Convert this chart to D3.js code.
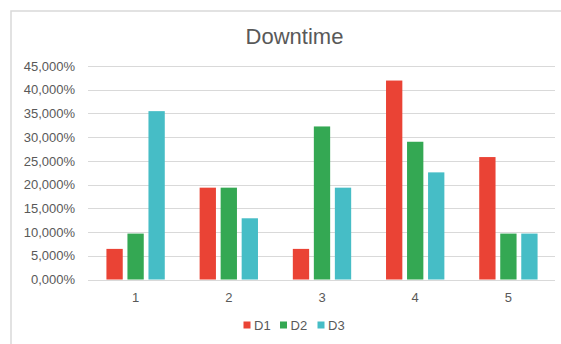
<!DOCTYPE html>
<html>
<head>
<meta charset="utf-8">
<script src="https://d3js.org/d3.v7.min.js"></script>
<style>
  html, body { margin: 0; padding: 0; background: #fff; }
  svg { display: block; font-family: "Liberation Sans", Arial, sans-serif; }
</style>
</head>
<body>
<svg id="chart" width="561" height="344"></svg>
<script>
// Downtime share per period, by series
const categories = ["1", "2", "3", "4", "5"];
const seriesNames = ["D1", "D2", "D3"];
const d1 = [0.06452, 0.19355, 0.06452, 0.41935, 0.25806];
const d2 = [0.09677, 0.19355, 0.32258, 0.29032, 0.09677];
const d3v = [0.35484, 0.12903, 0.19355, 0.22581, 0.09677];
const colors = ["#ea4335", "#34a853", "#46bdc6"];
const yTicks = [0, 0.05, 0.10, 0.15, 0.20, 0.25, 0.30, 0.35, 0.40, 0.45];

const seriesValues = [d1, d2, d3v];
const rows = categories.map((c, i) => ({
  cat: c,
  vals: seriesNames.map((s, j) => ({ key: s, value: seriesValues[j][i] }))
}));

const svg = d3.select("#chart");
const locale = d3.formatLocale({ decimal: ",", thousands: ".", grouping: [3], currency: ["", "€"] });
const fmt = locale.format(".3%");

const plot = { left: 89, right: 555, top: 66, bottom: 279.5 };

// chart frame
svg.append("rect")
  .attr("x", 11).attr("y", 11)
  .attr("width", 600).attr("height", 400)
  .attr("fill", "#fff")
  .attr("stroke", "#d9d9d9").attr("stroke-width", 1.5);

// title
svg.append("text")
  .attr("x", 294.5).attr("y", 44)
  .attr("text-anchor", "middle")
  .attr("font-size", 22)
  .attr("fill", "#595959")
  .text("Downtime");

const x = d3.scaleBand().domain(categories)
  .range([plot.left, plot.right]).paddingInner(0.374).paddingOuter(0.187);
const xs = d3.scaleBand().domain(seriesNames)
  .range([0, x.bandwidth()]).paddingInner(0.224).paddingOuter(0);
const y = d3.scaleLinear().domain([0, 0.45]).range([plot.bottom, plot.top]);

// horizontal gridlines
svg.append("g")
  .selectAll("line")
  .data(yTicks)
  .join("line")
  .attr("x1", plot.left - 1).attr("x2", plot.right)
  .attr("y1", d => Math.round(y(d)) + 0.5).attr("y2", d => Math.round(y(d)) + 0.5)
  .attr("stroke", "#d9d9d9").attr("stroke-width", 1.2);

// y axis labels
const yAxis = d3.axisLeft(y).tickValues(yTicks).tickFormat(fmt).tickSize(0).tickPadding(14);
const gy = svg.append("g").attr("transform", `translate(${plot.left},0)`).call(yAxis);
gy.select(".domain").remove();
gy.selectAll("text").attr("font-size", 13).attr("fill", "#595959")
  .attr("font-family", "Liberation Sans, Arial, sans-serif");

// bars
const groups = svg.append("g").selectAll("g")
  .data(rows)
  .join("g")
  .attr("transform", d => `translate(${x(d.cat)},0)`);
groups.selectAll("rect")
  .data(d => d.vals)
  .join("rect")
  .attr("x", d => xs(d.key))
  .attr("width", xs.bandwidth())
  .attr("y", d => y(d.value))
  .attr("height", d => y(0) - y(d.value))
  .attr("fill", (d, i) => colors[i]);

// x axis
const xAxis = d3.axisBottom(x).tickSize(0).tickPadding(12);
const gx = svg.append("g").attr("transform", `translate(0,${Math.round(plot.bottom) + 0.5})`).call(xAxis);
gx.select(".domain").attr("stroke", "#d9d9d9").attr("stroke-width", 1.2)
  .attr("d", `M${plot.left - 1},0H${plot.right}`);
gx.selectAll("text").attr("font-size", 13).attr("fill", "#595959")
  .attr("font-family", "Liberation Sans, Arial, sans-serif");

// legend
const legendX = [243.5, 280, 317.5];
const legend = svg.append("g").selectAll("g")
  .data(seriesNames)
  .join("g")
  .attr("transform", (d, i) => `translate(${legendX[i]},321.5)`);
legend.append("rect")
  .attr("width", 7).attr("height", 7)
  .attr("fill", (d, i) => colors[i]);
legend.append("text")
  .attr("x", 10.5).attr("y", 8.5)
  .attr("font-size", 13)
  .attr("fill", "#595959")
  .text(d => d);
</script>
</body>
</html>
